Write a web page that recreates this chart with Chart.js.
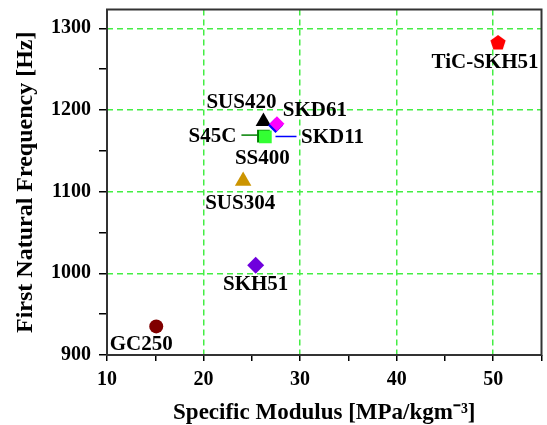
<!DOCTYPE html>
<html>
<head>
<meta charset="utf-8">
<script src="https://cdn.jsdelivr.net/npm/chart.js@4"></script>
<style>
html, body { margin: 0; padding: 0; background: #fff; overflow: hidden; }
#wrap { width: 547px; height: 425px; overflow: hidden; }
</style>
</head>
<body>
<div id="wrap"><canvas id="myChart" width="551" height="425"></canvas></div>
<script>
// data (first entries are drawn on top)
const materials = ['SS400', 'S45C', 'SKD61', 'SKD11', 'SUS420', 'SUS304', 'SKH51', 'GC250', 'TiC-SKH51'];
const modulus   = [26.4, 26.2, 27.6, 27.45, 26.2, 24.1, 25.4, 15.1, 50.5];
const frequency = [1167, 1168, 1183, 1181, 1186, 1113, 1010, 935, 1282];
const xTickLabels = [10, 20, 30, 40, 50];
const yTickLabels = [900, 1000, 1100, 1200, 1300];

/* STYLE DES MARQUEURS */
function pentagon(color, r) {
    const c = document.createElement('canvas');
    c.width = c.height = r * 2 + 2;
    const g = c.getContext('2d');
    g.fillStyle = color;
    g.beginPath();
    for (let k = 0; k < 5; k++) {
        const a = -Math.PI / 2 + k * 2 * Math.PI / 5;
        g.lineTo(r + 1 + r * Math.cos(a), r + 1 + r * Math.sin(a));
    }
    g.closePath();
    g.fill();
    return c;
}

const markerStyle = {
    'SS400':     { color: '#33ff33', shape: 'rect', size: 9 },
    'S45C':      { color: '#008000', shape: 'rect', size: 9 },
    'SKD61':     { color: '#ff00ff', shape: 'rectRot', size: 7.5 },
    'SKD11':     { color: '#0000ff', shape: 'rectRot', size: 7.5 },
    'SUS420':    { color: '#000000', shape: 'triangle', size: 9 },
    'SUS304':    { color: '#cc9400', shape: 'triangle', size: 9.5 },
    'SKH51':     { color: '#6f00dd', shape: 'rectRot', size: 8.5 },
    'GC250':     { color: '#800000', shape: 'circle', size: 7 },
    'TiC-SKH51': { color: '#ff0000', shape: pentagon('#ff0000', 8), size: 8 }
};

// label offsets in pixels from the marker
const labelOffset = {
    'SS400': [-3, 22], 'S45C': [-51, 0], 'SKD61': [38, -13], 'SKD11': [57, 12],
    'SUS420': [-22, -19], 'SUS304': [-3, 23], 'SKH51': [0, 19], 'GC250': [-15, 18],
    'TiC-SKH51': [-13, 20]
};
const leaders = [
    { name: 'S45C', color: '#008000', x1: -22, x2: -3, dy: -1 },
    { name: 'SKD11', color: '#0000ff', x1: 0, x2: 21, dy: 11 }
];

const serif = "'Liberation Serif', 'Times New Roman', serif";

const labelPlugin = {
    id: 'pointLabels',
    beforeDatasetsDraw(chart) {
        const { ctx, chartArea: a, scales: { x, y } } = chart;
        ctx.save();
        ctx.strokeStyle = '#333';
        ctx.lineWidth = 2;
        ctx.strokeRect(a.left, a.top, a.right - a.left, a.bottom - a.top);
        leaders.forEach(function (l) {
            const i = materials.indexOf(l.name);
            const px = x.getPixelForValue(modulus[i]);
            const py = y.getPixelForValue(frequency[i]);
            ctx.strokeStyle = l.color;
            ctx.lineWidth = 1.5;
            ctx.beginPath();
            ctx.moveTo(px + l.x1, py + l.dy);
            ctx.lineTo(px + l.x2, py + l.dy);
            ctx.stroke();
        });
        ctx.restore();
    },
    afterDatasetsDraw(chart) {
        const { ctx, scales: { x, y } } = chart;
        ctx.save();
        ctx.fillStyle = '#000';
        ctx.font = 'bold 21px ' + serif;
        ctx.textAlign = 'center';
        ctx.textBaseline = 'middle';
        materials.forEach(function (m, i) {
            const o = labelOffset[m];
            ctx.fillText(m, x.getPixelForValue(modulus[i]) + o[0], y.getPixelForValue(frequency[i]) + o[1]);
        });
        ctx.restore();
    }
};

/* CONSTRUIRE LES SERIES */
const datasets = materials.map(function (m, i) {
    const s = markerStyle[m];
    return {
        label: m,
        data: [{ x: modulus[i], y: frequency[i] }],
        pointStyle: s.shape,
        pointRadius: s.size,
        backgroundColor: s.color,
        borderColor: s.color,
        borderWidth: 0
    };
});

const gridColor = '#44ee44';

var ctx = document.getElementById('myChart').getContext('2d');
var myChart = new Chart(ctx, {
    type: 'scatter',
    data: { datasets: datasets },
    options: {
        responsive: false,
        animation: false,
        events: [],
        layout: { padding: { left: 0, right: 0, top: 7, bottom: 0 } },
        plugins: { legend: { display: false }, tooltip: { enabled: false } },
        scales: {
            x: {
                min: 10, max: 55,
                afterFit: function (s) { s.height = 70; s.paddingLeft = 0; s.paddingRight = 0; },
                ticks: {
                    stepSize: 5,
                    includeBounds: false,
                    maxRotation: 0,
                    autoSkip: false,
                    padding: 7,
                    color: '#000',
                    font: { family: serif, size: 20, weight: 'bold' },
                    callback: function (v) { return xTickLabels.includes(v) ? String(v) : ''; }
                },
                grid: {
                    lineWidth: 1.5,
                    tickLength: 6,
                    tickWidth: 1.5,
                    tickColor: '#000',
                    color: function (c) {
                        const v = c.tick && c.tick.value;
                        return (v % 10 === 0 && v > 10) ? gridColor : 'rgba(0,0,0,0)';
                    }
                },
                border: { display: false, dash: [6, 4] },
                title: {
                    display: true,
                    text: 'Specific Modulus [MPa/kgm\u207B\u00B3]',
                    color: '#000',
                    font: { family: serif, size: 23, weight: 'bold' },
                    padding: { top: 0, bottom: -2 }
                }
            },
            y: {
                min: 900, max: 1323,
                afterFit: function (s) { s.width = 107; s.paddingTop = 0; s.paddingBottom = 0; },
                ticks: {
                    stepSize: 50,
                    includeBounds: false,
                    autoSkip: false,
                    padding: 8,
                    color: '#000',
                    font: { family: serif, size: 20, weight: 'bold' },
                    callback: function (v) { return yTickLabels.includes(v) ? String(v) : ''; }
                },
                grid: {
                    lineWidth: 1.5,
                    tickLength: 8,
                    tickWidth: 1.5,
                    tickColor: '#000',
                    color: function (c) {
                        const v = c.tick && c.tick.value;
                        return (v % 100 === 0 && v > 900) ? gridColor : 'rgba(0,0,0,0)';
                    }
                },
                border: { display: false, dash: [6, 4] },
                title: {
                    display: true,
                    text: 'First Natural Frequency [Hz]',
                    color: '#000',
                    font: { family: serif, size: 24, weight: 'bold' },
                    padding: { top: 11, bottom: 0 }
                }
            }
        }
    },
    plugins: [labelPlugin]
});
</script>
</body>
</html>
